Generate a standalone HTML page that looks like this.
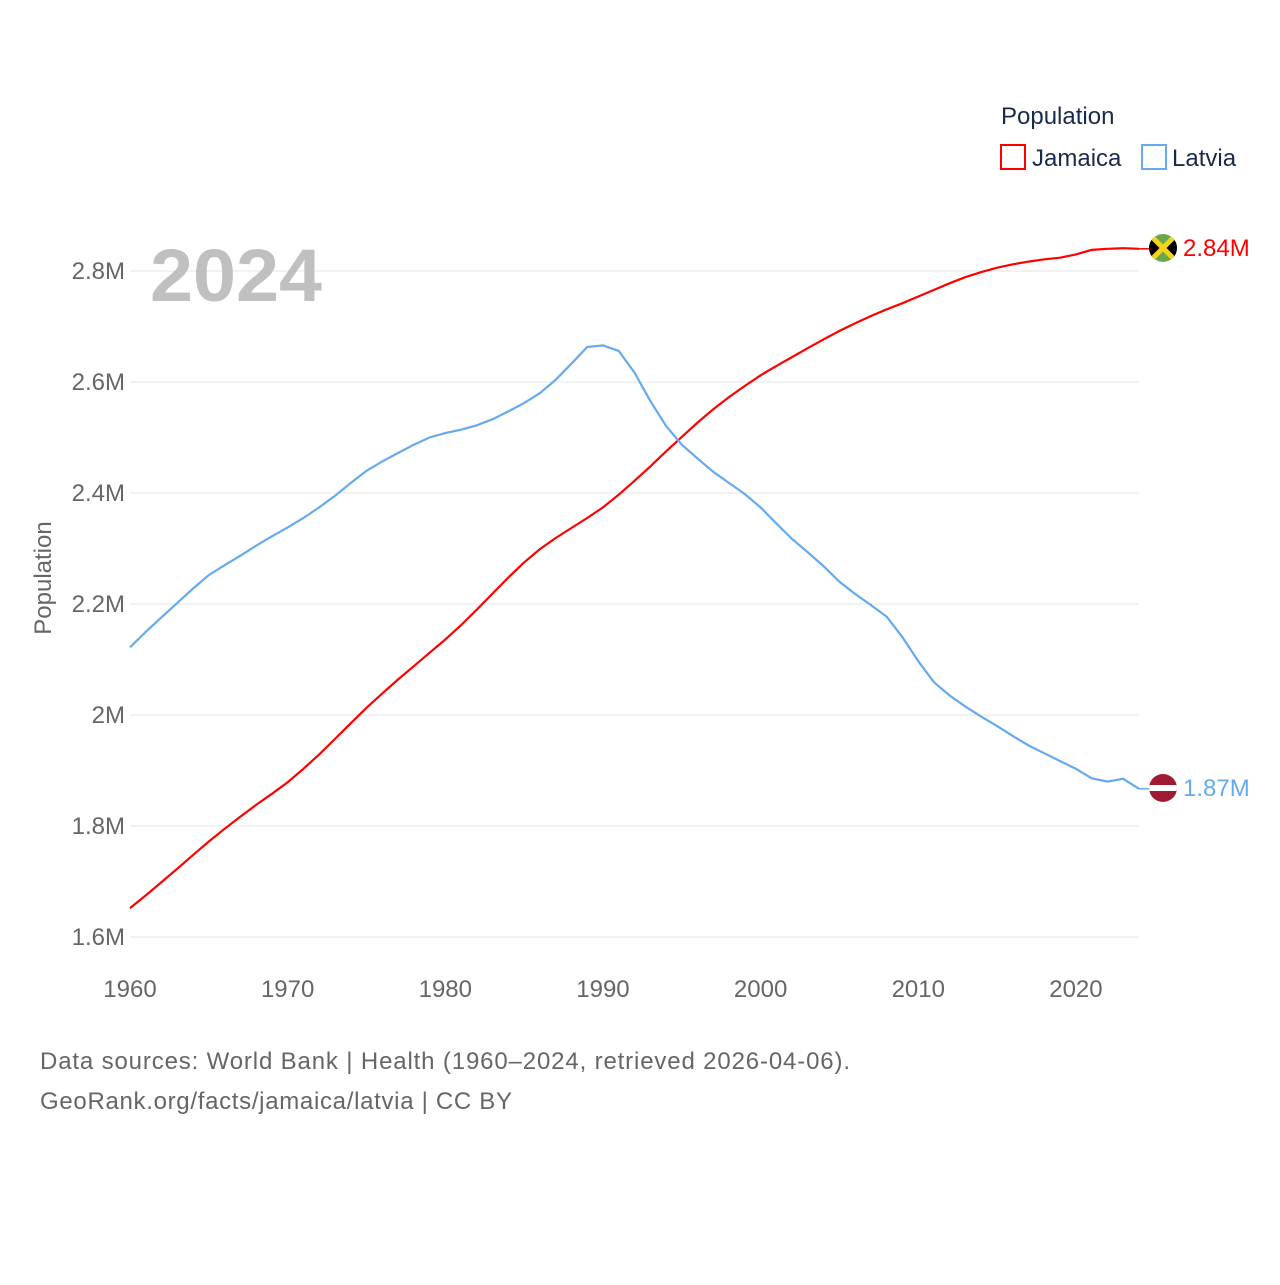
<!DOCTYPE html>
<html><head><meta charset="utf-8">
<style>
body{margin:0;background:#fff;width:1280px;height:1280px;overflow:hidden;font-family:"Liberation Sans",sans-serif;}
</style></head>
<body>
<svg id="chart" width="1280" height="1280" xmlns="http://www.w3.org/2000/svg" font-family="Liberation Sans, sans-serif">
<defs>
<clipPath id="cj"><circle cx="1163" cy="248" r="14"/></clipPath>
<clipPath id="cl"><circle cx="1163" cy="788" r="14"/></clipPath>
</defs>
<g id="grid"></g>
<g id="yticks"></g>
<g id="xticks"></g>
<text x="150" y="301" font-size="74" font-weight="bold" fill="#c0c0c0" textLength="172" lengthAdjust="spacingAndGlyphs">2024</text>
<text transform="translate(51,578) rotate(-90)" text-anchor="middle" font-size="24" fill="#666">Population</text>
<g id="lines"></g>
<g clip-path="url(#cj)">
<rect x="1149" y="234" width="28" height="28" fill="#6aa84f"/>
<polygon points="1149,234 1163,248 1149,262" fill="#000"/>
<polygon points="1177,234 1163,248 1177,262" fill="#000"/>
<line x1="1149" y1="234" x2="1177" y2="262" stroke="#f5d21c" stroke-width="5"/>
<line x1="1177" y1="234" x2="1149" y2="262" stroke="#f5d21c" stroke-width="5"/>
</g>
<g clip-path="url(#cl)">
<rect x="1149" y="774" width="28" height="28" fill="#9e1b32"/>
<rect x="1149" y="785" width="28" height="6" fill="#fff"/>
</g>
<text x="1183" y="256" font-size="24" fill="#ff0000">2.84M</text>
<text x="1183" y="796" font-size="24" fill="#66aaee">1.87M</text>
<text x="1001" y="124" font-size="24" fill="#1a2a4a">Population</text>
<rect x="1001" y="145" width="24" height="24" fill="none" stroke="#ff0000" stroke-width="2"/>
<text x="1032" y="166" font-size="24" fill="#1a2a4a">Jamaica</text>
<rect x="1142" y="145" width="24" height="24" fill="none" stroke="#66aaee" stroke-width="2"/>
<text x="1172" y="166" font-size="24" fill="#1a2a4a">Latvia</text>
<text x="40" y="1069" font-size="24" fill="#666" textLength="810">Data sources: World Bank | Health (1960–2024, retrieved 2026-04-06).</text>
<text x="40" y="1109" font-size="24" fill="#666" textLength="472">GeoRank.org/facts/jamaica/latvia | CC BY</text>
</svg>
<script>
const years=[];for(let y=1960;y<=2024;y++)years.push(y);
const jamaica=[1.652,1.675,1.699,1.723,1.748,1.772,1.795,1.817,1.838,1.858,1.879,1.903,1.929,1.957,1.985,2.013,2.039,2.064,2.088,2.112,2.136,2.162,2.190,2.219,2.248,2.275,2.299,2.319,2.337,2.355,2.374,2.397,2.422,2.448,2.475,2.501,2.527,2.551,2.573,2.593,2.612,2.629,2.645,2.661,2.677,2.692,2.706,2.719,2.731,2.742,2.754,2.766,2.778,2.789,2.798,2.806,2.812,2.817,2.821,2.824,2.830,2.838,2.840,2.841,2.840];
const latvia=[2.122,2.150,2.176,2.202,2.228,2.252,2.270,2.287,2.305,2.322,2.338,2.355,2.374,2.395,2.418,2.440,2.457,2.472,2.487,2.500,2.508,2.514,2.522,2.533,2.547,2.562,2.580,2.604,2.633,2.663,2.666,2.656,2.617,2.566,2.521,2.487,2.462,2.438,2.418,2.398,2.374,2.345,2.317,2.293,2.268,2.240,2.218,2.198,2.177,2.140,2.097,2.059,2.035,2.015,1.997,1.980,1.962,1.945,1.931,1.917,1.903,1.886,1.880,1.885,1.867];
const NS="http://www.w3.org/2000/svg";
const X0=130,X1=1139,Y0=937,Y1=271;
const xs=y=>X0+(y-1960)*(X1-X0)/64;
const ys=v=>Y0-(v-1.6)*(Y0-Y1)/1.2;
const yTicks=[1.6,1.8,2.0,2.2,2.4,2.6,2.8];
const yTickLabels=["1.6M","1.8M","2M","2.2M","2.4M","2.6M","2.8M"];
const xTicks=[1960,1970,1980,1990,2000,2010,2020];
function mk(t,a,p){const e=document.createElementNS(NS,t);for(const k in a)e.setAttribute(k,a[k]);p.appendChild(e);return e;}
const grid=document.getElementById('grid'),yt=document.getElementById('yticks'),xt=document.getElementById('xticks'),ln=document.getElementById('lines');
yTicks.forEach((v,i)=>{
 const l=mk('line',{x1:130,x2:1139,y1:ys(v),y2:ys(v),stroke:'#e6e6e6','stroke-width':1},grid);
 
 
 const t=mk('text',{x:125,y:ys(v)+8,'text-anchor':'end','font-size':24,fill:'#666'},yt);
 t.textContent=yTickLabels[i];
 
 
});
xTicks.forEach(y=>{
 const t=mk('text',{x:xs(y),y:997,'text-anchor':'middle','font-size':24,fill:'#666'},xt);
 t.textContent=y;
 
 
});
function line(d,c,n){
 const p=mk('path',{d:d.map((v,i)=>(i?'L':'M')+xs(years[i]).toFixed(1)+','+ys(v).toFixed(1)).join(''),fill:'none',stroke:c,'stroke-width':2.2},ln);
 
 
 const last=d[d.length-1];
 mk('line',{x1:xs(2024),x2:1150,y1:ys(last),y2:ys(last),stroke:c,'stroke-width':1.5},ln);
}
line(jamaica,'#ff0000','jamaica-line');
line(latvia,'#66aaee','latvia-line');
</script>
</body></html>
